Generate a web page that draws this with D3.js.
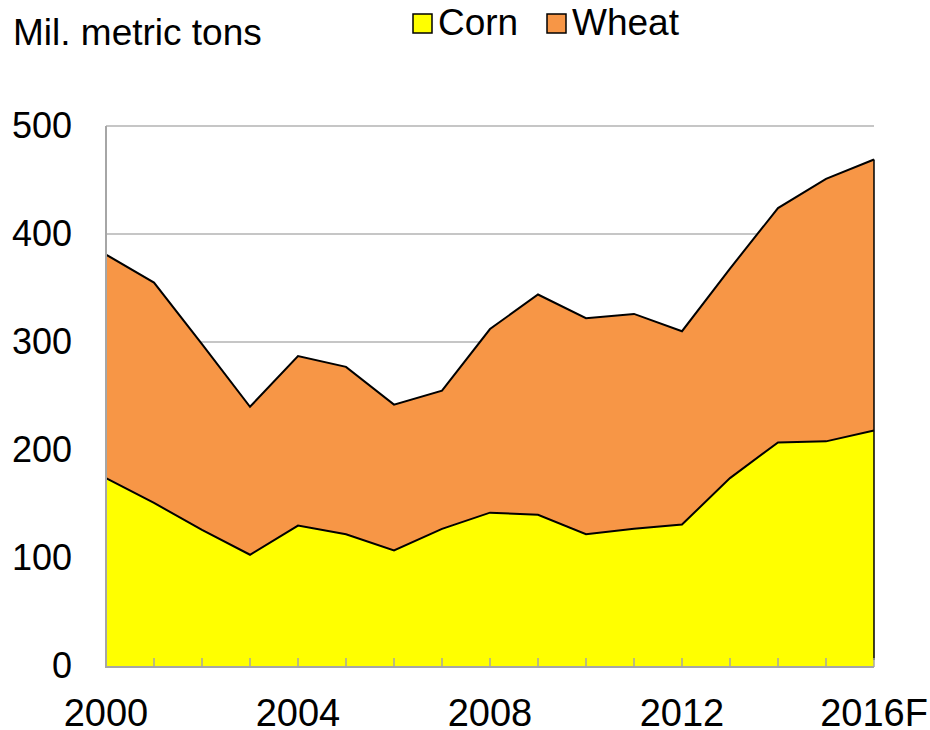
<!DOCTYPE html>
<html><head><meta charset="utf-8">
<script src="https://cdn.jsdelivr.net/npm/d3@7"></script>
<style>html,body{margin:0;padding:0;background:#fff}</style>
</head><body>
<svg id="c" width="930" height="730"></svg>
<script>
const years = ["2000","2001","2002","2003","2004","2005","2006","2007","2008","2009","2010","2011","2012","2013","2014","2015","2016F"];
const corn  = [174,151,126,103,130,122,107,127,142,140,122,127,131,174,207,208,218];
const wheat = [207,204,172,137,157,155,135,128,170,204,200,199,179,194,217,243,251];
const yTicks = [0,100,200,300,400,500];
const xLabels = ["2000","2004","2008","2012","2016F"];
const seriesNames = ["Corn","Wheat"];
const colors = ["#ffff00","#f79646"];

const svg = d3.select("#c");
const font = "'Liberation Sans', Arial, sans-serif";
const L=106, R=874, T=126, B=666;
const x = d3.scalePoint().domain(years).range([L,R]);
const y = d3.scaleLinear().domain([0,500]).range([B,T]);

const data = years.map((yr,i)=>({yr, Corn:corn[i], Wheat:wheat[i]}));
const stack = d3.stack().keys(seriesNames)(data);

// gridlines
svg.append("g").selectAll("line").data(yTicks.filter(d=>d>0)).join("line")
  .attr("x1",L).attr("x2",R).attr("y1",d=>y(d)).attr("y2",d=>y(d))
  .attr("stroke","#b3b3b3").attr("stroke-width",1.5);

const area = d3.area().x(d=>x(d.data.yr)).y0(d=>y(d[0])).y1(d=>y(d[1]));
svg.append("g").selectAll("path").data(stack).join("path")
  .attr("d",area).attr("fill",(d,i)=>colors[i]);

const line = d3.line().x(d=>x(d.data.yr)).y(d=>y(d[1]));
svg.append("g").selectAll("path").data(stack).join("path")
  .attr("d",line).attr("fill","none").attr("stroke","#000").attr("stroke-width",2);

// right edge
const last = stack[1][stack[1].length-1];
svg.append("line").attr("x1",R).attr("x2",R).attr("y1",y(last[1])).attr("y2",y(0)-6)
  .attr("stroke","#000").attr("stroke-width",1.5);

// axes
svg.append("line").attr("x1",L).attr("x2",L).attr("y1",T).attr("y2",B+2)
  .attr("stroke","#a6a6a6").attr("stroke-width",2);
svg.append("line").attr("x1",L).attr("x2",R).attr("y1",B+1).attr("y2",B+1)
  .attr("stroke","#a6a6a6").attr("stroke-width",2);
svg.append("g").selectAll("line").data(years.slice(1)).join("line")
  .attr("x1",d=>x(d)).attr("x2",d=>x(d)).attr("y1",B+1).attr("y2",B-8)
  .attr("stroke","#a6a6a6").attr("stroke-width",1.5);

// y labels
svg.append("g").selectAll("text").data(yTicks).join("text")
  .attr("x",72).attr("y",d=>y(d)+12).attr("text-anchor","end")
  .attr("font-family",font).attr("font-size",36).attr("fill","#000").text(d=>d);
// x labels
svg.append("g").selectAll("text").data(xLabels).join("text")
  .attr("x",d=>x(d)).attr("y",726).attr("text-anchor","middle")
  .attr("font-family",font).attr("font-size",38).attr("fill","#000").text(d=>d);

// title
svg.append("text").attr("x",13).attr("y",45).attr("font-family",font).attr("font-size",37)
  .attr("fill","#000").text("Mil. metric tons");

// legend
const lg = svg.append("g");
const lx = [413,547];
seriesNames.forEach((n,i)=>{
  lg.append("rect").attr("x",lx[i]).attr("y",14).attr("width",19).attr("height",19)
    .attr("fill",colors[i]).attr("stroke","#000").attr("stroke-width",1.5);
  lg.append("text").attr("x",lx[i]+25).attr("y",35).attr("font-family",font).attr("font-size",37)
    .attr("fill","#000").text(n);
});
</script>
</body></html>
